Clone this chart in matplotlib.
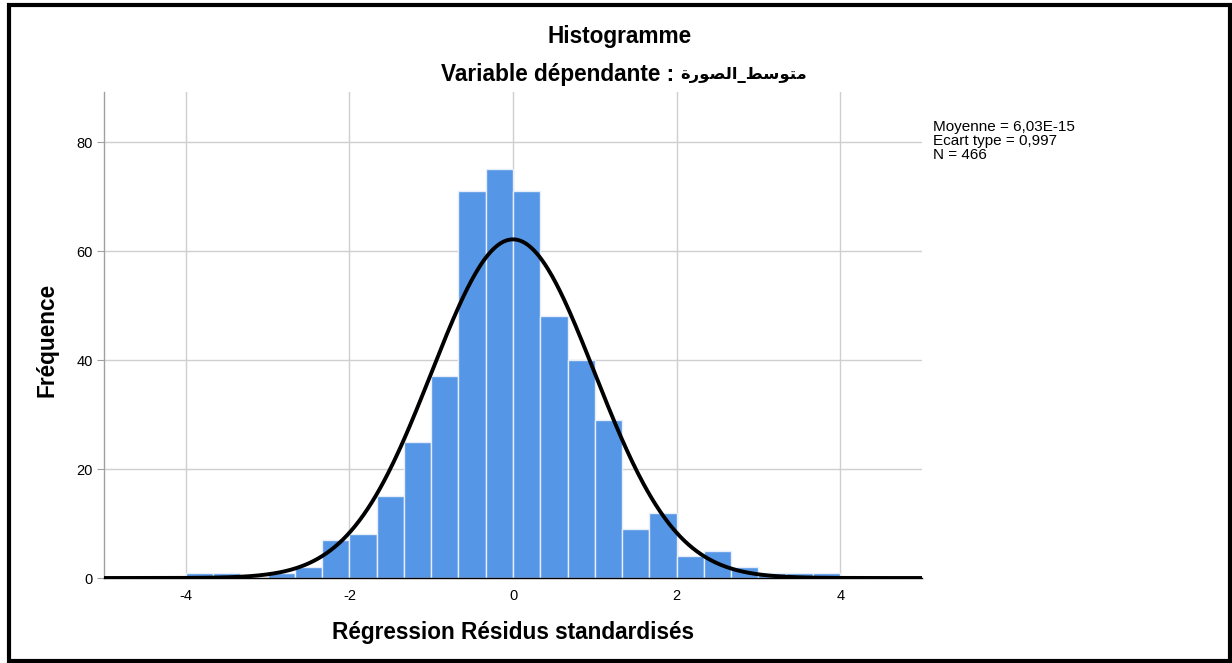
import numpy as np
import matplotlib
matplotlib.use("Agg")
import matplotlib.pyplot as plt
from matplotlib.patches import Rectangle

# Standardized residual histogram: bins of width 1/3 from -4 to 4
bin_edges = np.arange(-12, 13) / 3.0
counts = [1, 1, 0, 1, 2, 7, 8, 15, 25, 37, 71, 75,
          71, 48, 40, 29, 9, 12, 4, 5, 2, 1, 1, 1]
mean_val = 6.03e-15
std_val = 0.997
n_obs = 466

x_ticks = [-4, -2, 0, 2, 4]
y_ticks = [0, 20, 40, 60, 80]

title = "Histogramme"
subtitle_prefix = "Variable dépendante :"
# Arabic variable name in presentation forms, visual (left-to-right) order
arabic_name = "\uFE93\uFEAD\uFEEE\uFEBC\uFEDF\uFE8D_\uFEC2\uFEB3\uFEEE\uFE98\uFEE3"
x_label = "Régression Résidus standardisés"
y_label = "Fréquence"
stats_lines = ["Moyenne = 6,03E-15", "Ecart type = 0,997", "N = 466"]

fonts = ["Liberation Sans", "DejaVu Sans"]
plt.rcParams["font.family"] = fonts

fig = plt.figure(figsize=(12.32, 6.63), dpi=100)
ax = fig.add_axes([104 / 1232, 1 - 578 / 663, (922 - 104) / 1232, (578 - 92) / 663])

widths = np.diff(bin_edges)
ax.bar(bin_edges[:-1], counts, width=widths, align="edge",
       color="#5596e6", edgecolor="#e6eefa", linewidth=1.0, zorder=2)

# Normal curve scaled to counts per bin
xs = np.linspace(-5, 5, 600)
bw = widths[0]
ys = n_obs * bw / (std_val * np.sqrt(2 * np.pi)) * np.exp(-0.5 * ((xs - mean_val) / std_val) ** 2)
ax.plot(xs, ys, color="black", linewidth=2.8, zorder=3, solid_capstyle="butt")

ax.set_xlim(-5, 5)
ax.set_ylim(0, 89.2)
ax.set_xticks(x_ticks)
ax.set_yticks(y_ticks)
ax.set_xticklabels([str(v) for v in x_ticks], fontsize=10.5)
ax.set_yticklabels([str(v) for v in y_ticks], fontsize=10.5)
ax.grid(True, color="#cfcfcf", linewidth=1.0, zorder=0)
ax.set_axisbelow(True)

for side in ("top", "right"):
    ax.spines[side].set_visible(False)
ax.spines["left"].set_color("#a0a0a0")
ax.spines["left"].set_linewidth(1.0)
ax.spines["bottom"].set_color("black")
ax.spines["bottom"].set_linewidth(1.0)
ax.tick_params(axis="y", length=5, color="#a0a0a0", pad=3)
ax.tick_params(axis="x", length=0, pad=8)

fig.text(620 / 1232, 1 - 37 / 663, title, ha="center", va="center",
         fontsize=16.3, fontweight="bold")
fig.text(674 / 1232, 1 - 74 / 663, subtitle_prefix, ha="right", va="center",
         fontsize=16.3, fontweight="bold")
fig.text(680 / 1232, 1 - 75 / 663, arabic_name, ha="left", va="center",
         fontsize=11.8, fontweight="bold", family=["DejaVu Sans"])
fig.text(513 / 1232, 1 - 633 / 663, x_label, ha="center", va="center",
         fontsize=16.3, fontweight="bold")
fig.text(47 / 1232, 1 - 340 / 663, y_label, ha="center", va="center",
         rotation=90, fontsize=16.3, fontweight="bold")

fig.text(933 / 1232, 1 - 120 / 663, "\n".join(stats_lines), ha="left", va="top",
         fontsize=11, linespacing=1.02)

fig.add_artist(Rectangle((9 / 1232, 2 / 663), (1229.5 - 9) / 1232, (658 - 2) / 663,
                         transform=fig.transFigure, fill=False,
                         edgecolor="black", linewidth=3))

fig.savefig("out.png", dpi=100)
